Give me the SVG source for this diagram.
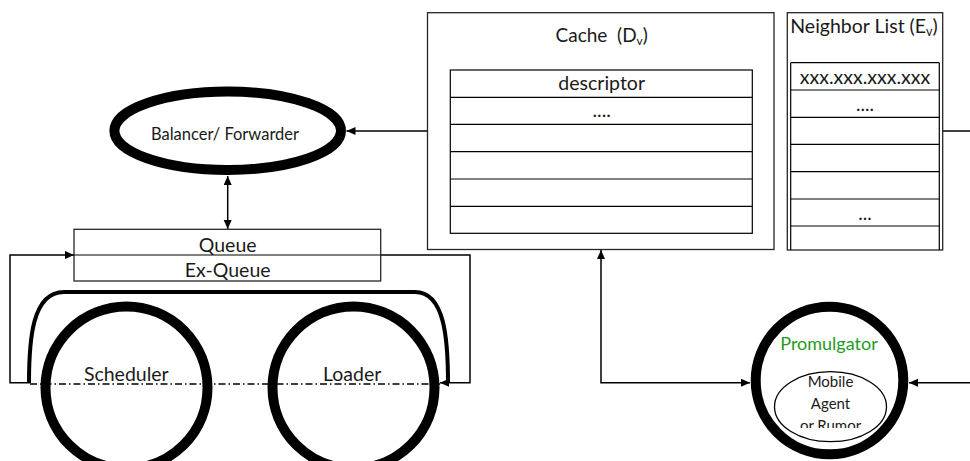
<svg xmlns="http://www.w3.org/2000/svg" width="970" height="461" viewBox="0 0 970 461">
  <defs>
    <style>
      .t { font-family: Lato, "Liberation Sans", sans-serif; fill: #1a1a1a; text-anchor: middle; white-space: pre; }
      .box { fill: #ffffff; stroke: #262626; stroke-width: 1.3; }
      .row { fill: none; stroke: #000000; stroke-width: 1.2; }
      .thick { fill: #ffffff; stroke: #000000; stroke-width: 10; }
      .wire { fill: none; stroke: #000000; stroke-width: 1.5; }
    </style>
    <marker id="arrow" markerUnits="userSpaceOnUse" markerWidth="10" markerHeight="10" viewBox="0 0 10 10" refX="9" refY="4" orient="auto-start-reverse">
      <path d="M0,0 L9,4 L0,8 Z" fill="#000000"/>
    </marker>
    <clipPath id="agentClip">
      <rect x="770" y="370" width="120" height="58"/>
    </clipPath>
  </defs>

  <!-- connectors -->
  <g id="connectors">
    <line class="wire" x1="427.5" y1="131" x2="346.5" y2="131" marker-end="url(#arrow)"/>
    <line class="wire" x1="227.7" y1="176" x2="227.7" y2="229" marker-start="url(#arrow)" marker-end="url(#arrow)"/>
    <polyline class="wire" points="30,382.7 10,382.7 10,255 74,255" marker-end="url(#arrow)"/>
    <polyline class="wire" points="380.7,255 470,255 470,382.7 440,382.7" marker-end="url(#arrow)"/>
    <polyline class="wire" points="601,250 601,382.7 750,382.7" marker-start="url(#arrow)" marker-end="url(#arrow)"/>
    <line class="wire" x1="943" y1="131" x2="970" y2="131"/>
    <line class="wire" x1="970" y1="382.7" x2="909" y2="382.7" marker-end="url(#arrow)"/>
  </g>

  <!-- balancer / forwarder -->
  <g id="balancer">
    <ellipse class="thick" cx="227.7" cy="130.8" rx="113.3" ry="39.2"/>
    <text class="t" x="225" y="140" font-size="16.5">Balancer/ Forwarder</text>
  </g>

  <!-- cache with descriptor table -->
  <g id="cache">
    <rect class="box" x="427.5" y="12.7" width="346.5" height="236.8"/>
    <text class="t" x="601.7" y="41.7" font-size="19" xml:space="preserve">Cache  (D<tspan font-size="12" dy="3">v</tspan><tspan dy="-3">)</tspan></text>
    <rect class="row" x="450.3" y="70" width="302" height="163.3"/>
    <path class="row" d="M450.3,97.3 H752.3 M450.3,124.3 H752.3 M450.3,151.7 H752.3 M450.3,179 H752.3 M450.3,206.3 H752.3"/>
    <text class="t" x="601.7" y="90" font-size="19.5">descriptor</text>
    <text class="t" x="601.7" y="117" font-size="19.5">....</text>
  </g>

  <!-- neighbor list -->
  <g id="neighbor-list">
    <rect class="box" x="787.3" y="12.7" width="155.4" height="237.3"/>
    <text class="t" x="864" y="33.3" font-size="19.5">Neighbor List (E<tspan font-size="12.5" dy="3">v</tspan><tspan dy="-3">)</tspan></text>
    <path class="row" d="M790.7,62.7 H939.3 M790.7,62.7 V250 M939.3,62.7 V250"/>
    <path class="row" d="M790.7,90 H939.3 M790.7,117.3 H939.3 M790.7,144.3 H939.3 M790.7,171.7 H939.3 M790.7,199 H939.3 M790.7,226 H939.3"/>
    <text class="t" x="865" y="84" font-size="19.5">xxx.xxx.xxx.xxx</text>
    <text class="t" x="865" y="111" font-size="19">....</text>
    <text class="t" x="865" y="220" font-size="19">...</text>
  </g>

  <!-- queue -->
  <g id="queue">
    <rect class="box" x="74" y="229.3" width="306.7" height="51.7"/>
    <line class="row" x1="74" y1="255" x2="380.7" y2="255"/>
    <text class="t" x="227.7" y="251.7" font-size="19.5">Queue</text>
    <text class="t" x="227.7" y="277.3" font-size="19.5">Ex-Queue</text>
  </g>

  <!-- carrier arch over the two wheels -->
  <g id="carrier">
    <path d="M29,383 C29,340 32,292 64,292 L415,292 C445,292 448,340 448,383" fill="none" stroke="#000000" stroke-width="4"/>
  </g>

  <!-- scheduler wheel -->
  <g id="scheduler">
    <circle class="thick" cx="126.5" cy="387.5" r="81" stroke-width="9.5"/>
    <text class="t" x="126.3" y="380.7" font-size="19.5">Scheduler</text>
  </g>

  <!-- loader wheel -->
  <g id="loader">
    <circle class="thick" cx="353.5" cy="387.5" r="81" stroke-width="9.5"/>
    <text class="t" x="352.2" y="380.7" font-size="19.5">Loader</text>
  </g>

  <!-- axle -->
  <line id="axle" x1="30" y1="384" x2="440" y2="384" stroke="#000000" stroke-width="1.3" stroke-dasharray="7 3 1.5 3"/>

  <!-- promulgator -->
  <g id="promulgator">
    <circle class="thick" cx="829.5" cy="380.5" r="73.8"/>
    <text class="t" x="829" y="350" font-size="18" style="fill:#1f9b1f">Promulgator</text>
    <ellipse cx="830.5" cy="406.7" rx="56" ry="35" fill="#ffffff" stroke="#000000" stroke-width="1.3"/>
    <g clip-path="url(#agentClip)">
      <text class="t" x="830.5" y="387.3" font-size="15">Mobile</text>
      <text class="t" x="830.5" y="409.3" font-size="15">Agent</text>
      <text class="t" x="830.5" y="431.3" font-size="15">or Rumor</text>
    </g>
  </g>
</svg>
